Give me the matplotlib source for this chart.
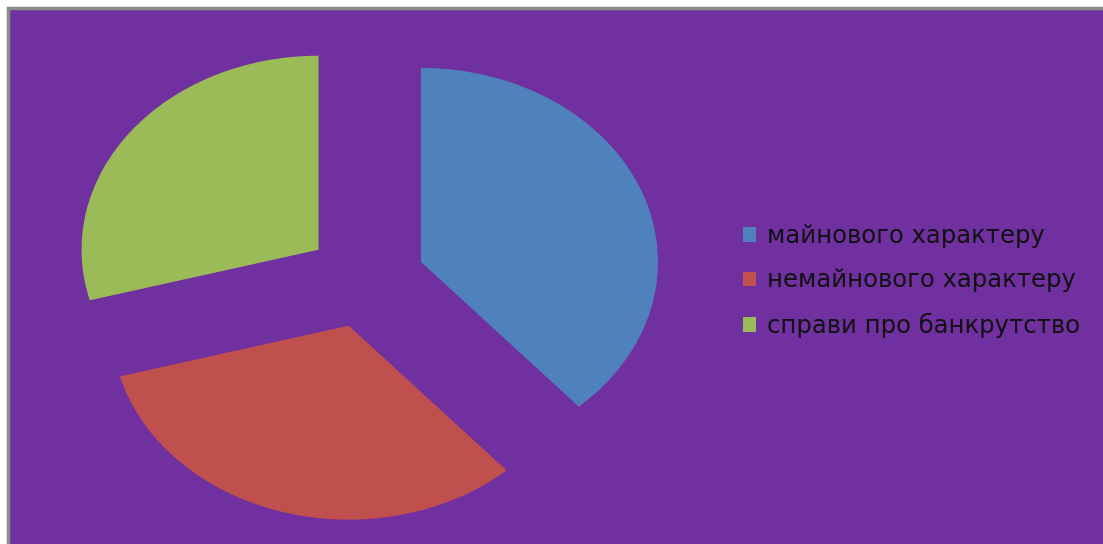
import numpy as np
import matplotlib
matplotlib.use('Agg')
import matplotlib.pyplot as plt
from matplotlib.patches import Rectangle, Patch

# categories and shares (percent)
labels = ['майнового характеру', 'немайнового характеру', 'справи про банкрутство']
shares = [38.4, 32.4, 29.2]
colors = ['#4F81BD', '#C0504D', '#9BBB59']

W, H = 1103, 544
fig = plt.figure(figsize=(W / 100, H / 100), dpi=100)
fig.patch.set_facecolor('white')

# purple chart area with grey frame on top / left
fig.patches.append(Rectangle((8 / W, -0.1), 1.2, (H - 8) / H + 0.1, transform=fig.transFigure,
                             facecolor='#7030A0', edgecolor='#8c8c8c', linewidth=2.5,
                             zorder=-1))

ax = fig.add_axes([0, 0, 1, 1])
ax.pie(shares, colors=colors, startangle=90, counterclock=False,
       explode=[0.25] * 3, wedgeprops=dict(linewidth=0))
# stretched (elliptical) pie as in the original
cx, cy, sx, sy = 365.6, 279.2, 237, 194
ax.set_aspect('auto')
ax.set_xlim(-cx / sx, (W - cx) / sx)
ax.set_ylim(-(H - cy) / sy, cy / sy)
ax.axis('off')

handles = [Patch(facecolor=c, edgecolor='none') for c in colors]
fig.legend(handles, labels, loc='center left', bbox_to_anchor=(721 / W, 1 - 281 / H),
           frameon=False, fontsize=17.5, labelcolor='#111111',
           handlelength=0.55, handleheight=0.55, handletextpad=0.45,
           labelspacing=0.84)

fig.savefig('out.png', dpi=100)
